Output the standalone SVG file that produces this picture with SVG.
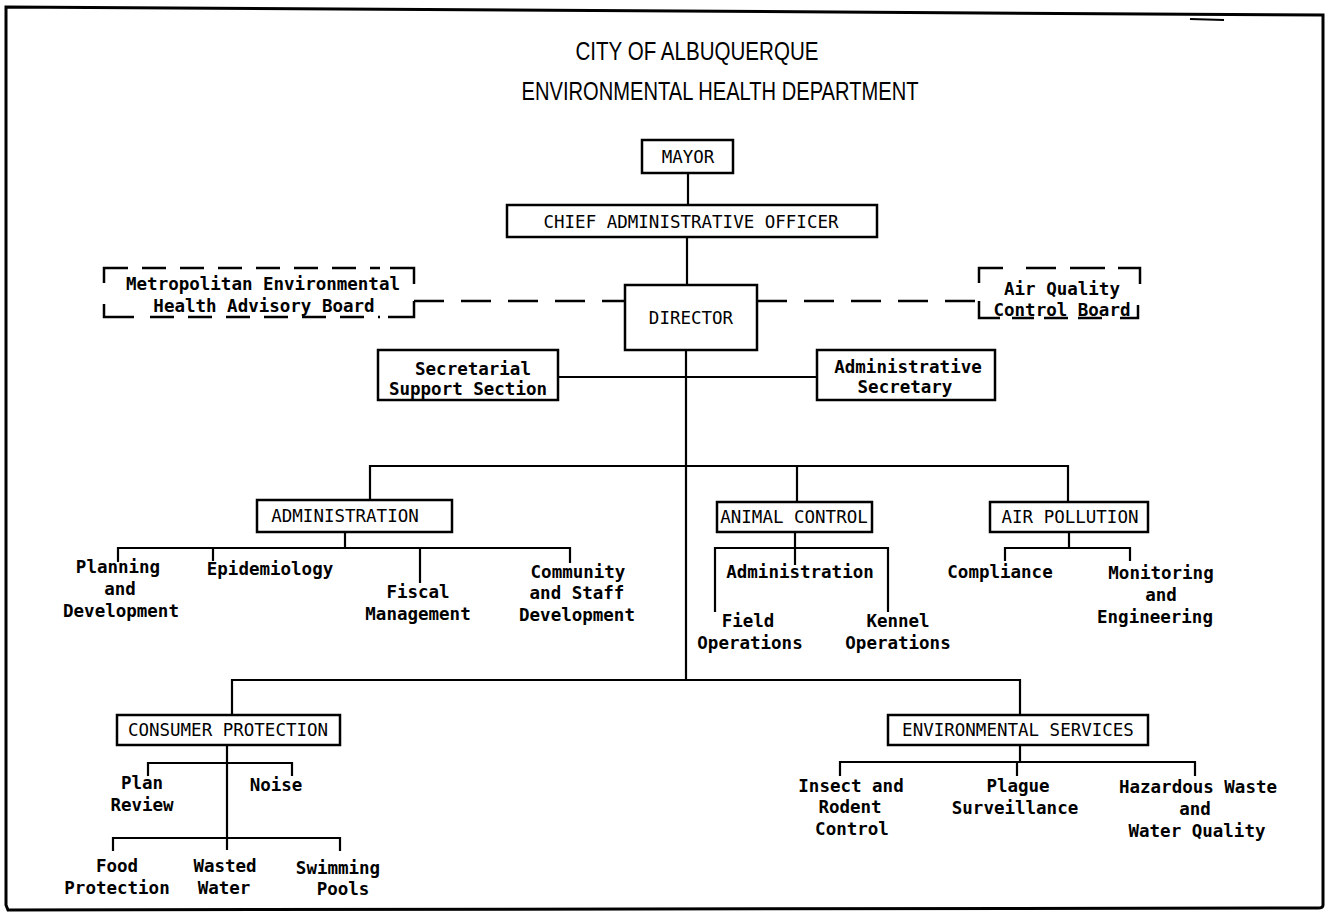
<svg xmlns="http://www.w3.org/2000/svg" width="1334" height="923" viewBox="0 0 1334 923">
<style>
  .bx{fill:#fff;stroke:#000;stroke-width:2.5}
  .ln{fill:none;stroke:#000;stroke-width:2.2}
  .dl{fill:none;stroke:#000;stroke-width:2.5;stroke-dasharray:30 17}
  .db{fill:none;stroke:#000;stroke-width:2.5;stroke-dasharray:24 14}
  .cn{fill:none;stroke:#000;stroke-width:2.5}
  text{font-family:"DejaVu Sans Mono","Liberation Mono",monospace;font-size:17.5px;text-anchor:middle;fill:#000}
  .up{font-weight:normal}
  .lw{font-weight:bold}
  .tt{font-family:"Liberation Sans","DejaVu Sans",sans-serif;font-size:25px;font-weight:normal}
</style>
<rect width="1334" height="923" fill="#fff"/>
<g id="frame">
  <path d="M6,7 L1323,15 L1323,905 Q1323,908 1318,908 L8,910 L6,905 Z" fill="none" stroke="#000" stroke-width="3"/>
  <path d="M1190,19 L1224,20" class="ln" stroke-width="1.5"/>
</g>
<g id="title">
  <text class="tt" x="697" y="60" textLength="243" lengthAdjust="spacingAndGlyphs">CITY OF ALBUQUERQUE</text>
  <text class="tt" x="720" y="100" textLength="397" lengthAdjust="spacingAndGlyphs">ENVIRONMENTAL HEALTH DEPARTMENT</text>
</g>
<g id="connectors">
  <path class="ln" d="M688,173 V205"/>
  <path class="ln" d="M687,237 V285"/>
  <path class="dl" d="M414,301 H625"/>
  <path class="dl" d="M757,301 H979"/>
  <path class="ln" d="M558,377 H817"/>
  <path class="ln" d="M686,350 V680"/>
  <path class="ln" d="M370,500 V466 H1068 V502"/>
  <path class="ln" d="M797,466 V502"/>
  <path class="ln" d="M345,532 V548"/>
  <path class="ln" d="M118,562 V548 H570 V563"/>
  <path class="ln" d="M213,548 V561"/>
  <path class="ln" d="M420,548 V583"/>
  <path class="ln" d="M795,532 V565"/>
  <path class="ln" d="M715,612 V548 H888 V612"/>
  <path class="ln" d="M1069,532 V548"/>
  <path class="ln" d="M1005,561 V548 H1130 V561"/>
  <path class="ln" d="M232,715 V680 H1020 V715"/>
  <path class="ln" d="M227,745 V850"/>
  <path class="ln" d="M148,776 V763 H292 V776"/>
  <path class="ln" d="M113,851 V838 H340 V851"/>
  <path class="ln" d="M1020,745 V762"/>
  <path class="ln" d="M840,776 V762 H1195 V776"/>
  <path class="ln" d="M1017,762 V776"/>
</g>
<g id="mayor">
  <rect class="bx" x="642" y="140" width="91" height="33"/>
  <text class="up" x="688" y="163">MAYOR</text>
</g>
<g id="cao">
  <rect class="bx" x="507" y="205" width="370" height="32"/>
  <text class="up" x="691" y="228">CHIEF ADMINISTRATIVE OFFICER</text>
</g>
<g id="director">
  <rect class="bx" x="625" y="285" width="132" height="65"/>
  <text class="up" x="691" y="324">DIRECTOR</text>
</g>
<g id="metro-board">
  <path class="cn" d="M104,283 V268 H128"/>
  <path class="cn" d="M390,268 H414 V284"/>
  <path class="cn" d="M104,304 V317 H134"/>
  <path class="cn" d="M388,317 H414 V301"/>
  <path class="db" d="M142,268 H380"/>
  <path class="db" d="M150,317 H380"/>
  <text class="lw" x="263" y="290">Metropolitan Environmental</text>
  <text class="lw" x="264" y="312">Health Advisory Board</text>
</g>
<g id="air-board">
  <path class="cn" d="M979,283 V268 H1003"/>
  <path class="cn" d="M1118,268 H1140 V284"/>
  <path class="cn" d="M979,301 V318 H1000"/>
  <path class="cn" d="M1120,318 H1138 V305"/>
  <path class="db" d="M1018,268 H1105" style="stroke-dasharray:0 8 30 14 30"/>
  <path class="db" d="M1012,318 H1110" style="stroke-dasharray:22 10 24 10 24"/>
  <text class="lw" x="1062" y="295">Air Quality</text>
  <text class="lw" x="1062" y="316">Control Board</text>
</g>
<g id="secretarial">
  <rect class="bx" x="378" y="350" width="180" height="50"/>
  <text class="lw" x="473" y="375">Secretarial</text>
  <text class="lw" x="468" y="395">Support Section</text>
</g>
<g id="admin-secretary">
  <rect class="bx" x="817" y="350" width="178" height="50"/>
  <text class="lw" x="908" y="373">Administrative</text>
  <text class="lw" x="905" y="393">Secretary</text>
</g>
<g id="administration">
  <rect class="bx" x="257" y="500" width="195" height="32"/>
  <text class="up" x="345" y="522">ADMINISTRATION</text>
</g>
<g id="planning"><text class="lw" x="118" y="573">Planning</text><text class="lw" x="120" y="595">and</text><text class="lw" x="121" y="617">Development</text></g>
<g id="epidemiology"><text class="lw" x="270" y="575">Epidemiology</text></g>
<g id="fiscal"><text class="lw" x="418" y="598">Fiscal</text><text class="lw" x="418" y="620">Management</text></g>
<g id="community"><text class="lw" x="578" y="578">Community</text><text class="lw" x="577" y="599">and Staff</text><text class="lw" x="577" y="621">Development</text></g>
<g id="animal-control">
  <rect class="bx" x="717" y="502" width="155" height="30"/>
  <text class="up" x="794" y="523">ANIMAL CONTROL</text>
</g>
<g id="ac-administration"><text class="lw" x="800" y="578">Administration</text></g>
<g id="field-ops"><text class="lw" x="748" y="627">Field</text><text class="lw" x="750" y="649">Operations</text></g>
<g id="kennel-ops"><text class="lw" x="898" y="627">Kennel</text><text class="lw" x="898" y="649">Operations</text></g>
<g id="air-pollution">
  <rect class="bx" x="990" y="502" width="158" height="30"/>
  <text class="up" x="1070" y="523">AIR POLLUTION</text>
</g>
<g id="compliance"><text class="lw" x="1000" y="578">Compliance</text></g>
<g id="monitoring"><text class="lw" x="1161" y="579">Monitoring</text><text class="lw" x="1161" y="601">and</text><text class="lw" x="1155" y="623">Engineering</text></g>
<g id="consumer-protection">
  <rect class="bx" x="117" y="715" width="223" height="30"/>
  <text class="up" x="228" y="736">CONSUMER PROTECTION</text>
</g>
<g id="plan-review"><text class="lw" x="142" y="789">Plan</text><text class="lw" x="142" y="811">Review</text></g>
<g id="noise"><text class="lw" x="276" y="791">Noise</text></g>
<g id="food"><text class="lw" x="117" y="872">Food</text><text class="lw" x="117" y="894">Protection</text></g>
<g id="wasted-water"><text class="lw" x="225" y="872">Wasted</text><text class="lw" x="224" y="894">Water</text></g>
<g id="swimming"><text class="lw" x="338" y="874">Swimming</text><text class="lw" x="343" y="895">Pools</text></g>
<g id="environmental-services">
  <rect class="bx" x="888" y="715" width="260" height="30"/>
  <text class="up" x="1018" y="736">ENVIRONMENTAL SERVICES</text>
</g>
<g id="insect"><text class="lw" x="851" y="792">Insect and</text><text class="lw" x="850" y="813">Rodent</text><text class="lw" x="852" y="835">Control</text></g>
<g id="plague"><text class="lw" x="1018" y="792">Plague</text><text class="lw" x="1015" y="814">Surveillance</text></g>
<g id="hazardous"><text class="lw" x="1198" y="793">Hazardous Waste</text><text class="lw" x="1195" y="815">and</text><text class="lw" x="1197" y="837">Water Quality</text></g>
</svg>
